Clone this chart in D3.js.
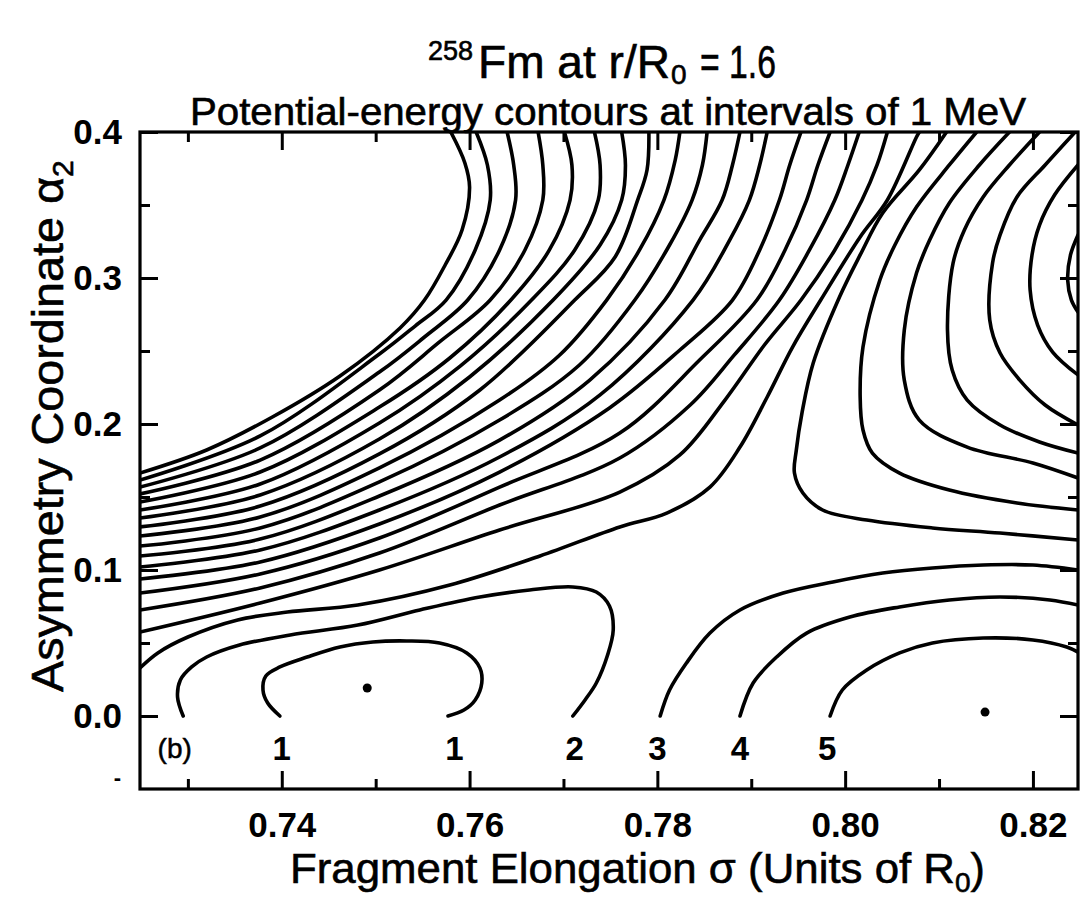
<!DOCTYPE html>
<html><head><meta charset="utf-8">
<script src="https://cdn.jsdelivr.net/npm/d3@7"></script>
<style>
html,body{margin:0;padding:0;background:#fff;}
svg text{font-family:"Liberation Sans",Arial,sans-serif;fill:#000;}
</style></head><body>
<svg id="chart" width="1083" height="910"></svg>
<script>
// ---- axis data ----
const xDomain = [0.7249, 0.8248];
const yDomain = [-0.05, 0.4];
const xMajorTicks = [0.74, 0.76, 0.78, 0.80, 0.82];
const xMinorTicks = [0.73, 0.75, 0.77, 0.79, 0.81];
const xTickLabels = ["0.74", "0.76", "0.78", "0.80", "0.82"];
const yMajorTicks = [0, 0.1, 0.2, 0.3, 0.4];
const yMinorTicks = [-0.05, 0.05, 0.15, 0.25, 0.35];
const yTickLabels = ["0.0", "0.1", "0.2", "0.3", "0.4"];

// ---- contour lines, [sigma, alpha2] ----
// band of contours running from the left edge up to the top edge
const bandLines = [
 [[0.7249,0.1664],[0.7320,0.1822],[0.7390,0.2048],[0.7462,0.2329],[0.7526,0.2658],[0.7552,0.2849],[0.7574,0.3089],[0.7592,0.3329],[0.7600,0.3623],[0.7595,0.3788],[0.7580,0.4000]],
 [[0.7249,0.1616],[0.7377,0.1918],[0.7504,0.2479],[0.7542,0.2671],[0.7575,0.2849],[0.7606,0.3192],[0.7622,0.3534],[0.7619,0.3774],[0.7607,0.4000]],
 [[0.7249,0.1568],[0.7377,0.1836],[0.7504,0.2356],[0.7552,0.2596],[0.7598,0.2849],[0.7632,0.3192],[0.7649,0.3534],[0.7647,0.3774],[0.7640,0.4000]],
 [[0.7249,0.1521],[0.7377,0.1753],[0.7504,0.2233],[0.7568,0.2562],[0.7622,0.2849],[0.7659,0.3192],[0.7678,0.3534],[0.7678,0.3774],[0.7673,0.4000]],
 [[0.7249,0.1466],[0.7377,0.1671],[0.7504,0.2116],[0.7579,0.2452],[0.7644,0.2849],[0.7685,0.3192],[0.7707,0.3534],[0.7709,0.3774],[0.7701,0.4000]],
 [[0.7249,0.1411],[0.7377,0.1589],[0.7504,0.2007],[0.7590,0.2397],[0.7666,0.2849],[0.7712,0.3192],[0.7737,0.3534],[0.7739,0.3774],[0.7733,0.4000]],
 [[0.7249,0.1356],[0.7377,0.1514],[0.7504,0.1897],[0.7600,0.2322],[0.7689,0.2849],[0.7739,0.3226],[0.7762,0.3534],[0.7766,0.3774],[0.7762,0.4000]],
 [[0.7249,0.1295],[0.7377,0.1438],[0.7504,0.1795],[0.7611,0.2233],[0.7712,0.2849],[0.7755,0.3144],[0.7779,0.3534],[0.7789,0.3740],[0.7791,0.4000]],
 [[0.7249,0.1233],[0.7377,0.1363],[0.7504,0.1699],[0.7632,0.2164],[0.7696,0.2473],[0.7746,0.2849],[0.7781,0.3192],[0.7807,0.3534],[0.7819,0.3808],[0.7824,0.4000]],
 [[0.7249,0.1164],[0.7377,0.1288],[0.7504,0.1603],[0.7632,0.2027],[0.7717,0.2404],[0.7776,0.2849],[0.7813,0.3226],[0.7837,0.3534],[0.7848,0.3774],[0.7853,0.4000]],
 [[0.7249,0.1096],[0.7377,0.1212],[0.7504,0.1507],[0.7632,0.1890],[0.7728,0.2301],[0.7808,0.2849],[0.7845,0.3260],[0.7869,0.3534],[0.7880,0.3774],[0.7888,0.4000]],
 [[0.7249,0.1021],[0.7377,0.1137],[0.7504,0.1411],[0.7632,0.1774],[0.7739,0.2199],[0.7838,0.2849],[0.7877,0.3260],[0.7898,0.3534],[0.7909,0.3774],[0.7917,0.4000]],
 [[0.7249,0.0938],[0.7377,0.1055],[0.7504,0.1315],[0.7632,0.1671],[0.7749,0.2110],[0.7824,0.2507],[0.7880,0.2849],[0.7909,0.3192],[0.7930,0.3534],[0.7941,0.3774],[0.7953,0.4000]],
 [[0.7249,0.0842],[0.7377,0.0973],[0.7504,0.1219],[0.7632,0.1568],[0.7760,0.1938],[0.7845,0.2438],[0.7906,0.2849],[0.7936,0.3192],[0.7959,0.3534],[0.7971,0.3774],[0.7984,0.4000]],
 [[0.7249,0.0726],[0.7377,0.0877],[0.7504,0.1116],[0.7632,0.1445],[0.7760,0.1767],[0.7835,0.2130],[0.7882,0.2473],[0.7930,0.2849],[0.7962,0.3192],[0.7989,0.3534],[0.8003,0.3774],[0.8015,0.4000]],
 [[0.7249,0.0575],[0.7377,0.0774],[0.7504,0.1000],[0.7632,0.1274],[0.7760,0.1534],[0.7824,0.1788],[0.7872,0.2164],[0.7914,0.2541],[0.7953,0.2849],[0.7989,0.3192],[0.8018,0.3534],[0.8034,0.3774],[0.8045,0.4000]],
 [[0.7249,0.0329],[0.7268,0.0432],[0.7300,0.0541],[0.7353,0.0658],[0.7406,0.0712],[0.7481,0.0760],[0.7579,0.0897],[0.7675,0.1096],[0.7760,0.1295],[0.7810,0.1390],[0.7856,0.1568],[0.7888,0.1842],[0.7917,0.2185],[0.7944,0.2527],[0.7974,0.2849],[0.8016,0.3281],[0.8045,0.3534],[0.8076,0.3966],[0.8079,0.4000]]
];
// contours from the top edge curving round to the right edge
const rightLines = [
 [[0.8108,0.4000],[0.8079,0.3740],[0.8040,0.3445],[0.8016,0.3158],[0.7994,0.2870],[0.7966,0.2418],[0.7954,0.2075],[0.7948,0.1822],[0.7946,0.1664],[0.7955,0.1527],[0.7976,0.1411],[0.8023,0.1342],[0.8093,0.1288],[0.8165,0.1253],[0.8248,0.1205]],
 [[0.8140,0.4000],[0.8111,0.3774],[0.8076,0.3486],[0.8053,0.3226],[0.8037,0.2986],[0.8019,0.2527],[0.8016,0.2185],[0.8019,0.1959],[0.8029,0.1801],[0.8058,0.1664],[0.8111,0.1548],[0.8183,0.1459],[0.8248,0.1411]],
 [[0.8175,0.4000],[0.8143,0.3774],[0.8111,0.3514],[0.8090,0.3260],[0.8076,0.3034],[0.8063,0.2644],[0.8063,0.2301],[0.8079,0.2027],[0.8130,0.1842],[0.8200,0.1733],[0.8248,0.1630]],
 [[0.8207,0.4000],[0.8175,0.3774],[0.8147,0.3555],[0.8127,0.3329],[0.8115,0.3103],[0.8109,0.2644],[0.8114,0.2370],[0.8130,0.2164],[0.8165,0.1993],[0.8207,0.1877],[0.8248,0.1801]],
 [[0.8245,0.4000],[0.8213,0.3774],[0.8183,0.3555],[0.8165,0.3295],[0.8157,0.3103],[0.8154,0.2712],[0.8165,0.2486],[0.8186,0.2301],[0.8213,0.2130],[0.8248,0.1993]],
 [[0.8248,0.3774],[0.8223,0.3568],[0.8207,0.3363],[0.8199,0.3158],[0.8197,0.2918],[0.8205,0.2678],[0.8221,0.2493],[0.8248,0.2336]],
 [[0.8248,0.3295],[0.8240,0.3158],[0.8237,0.2986],[0.8241,0.2849],[0.8248,0.2767]]
];
// low-energy contours near alpha2 = 0
const lowerLines = [
 [[0.7398,0],[0.7385,0.0089],[0.7380,0.0178],[0.7383,0.0274],[0.7398,0.0336],[0.7427,0.0404],[0.7462,0.0473],[0.7497,0.0507],[0.7533,0.0514],[0.7568,0.0500],[0.7597,0.0432],[0.7611,0.0329],[0.7613,0.0226],[0.7606,0.0110],[0.7594,0.0041],[0.7577,0]],
 [[0.7295,0],[0.7289,0.0130],[0.7292,0.0247],[0.7304,0.0336],[0.7320,0.0404],[0.7355,0.0486],[0.7409,0.0555],[0.7481,0.0623],[0.7547,0.0726],[0.7611,0.0815],[0.7664,0.0863],[0.7710,0.0884],[0.7735,0.0849],[0.7749,0.0753],[0.7753,0.0589],[0.7747,0.0418],[0.7735,0.0226],[0.7723,0.0110],[0.7710,0]],
 [[0.7803,0],[0.7813,0.0178],[0.7831,0.0363],[0.7856,0.0568],[0.7888,0.0726],[0.7934,0.0842],[0.7987,0.0918],[0.8040,0.0979],[0.8093,0.1014],[0.8147,0.1034],[0.8200,0.1034],[0.8248,0.1000]],
 [[0.7888,0],[0.7902,0.0226],[0.7927,0.0404],[0.7959,0.0568],[0.8005,0.0678],[0.8058,0.0747],[0.8111,0.0795],[0.8165,0.0815],[0.8218,0.0795],[0.8248,0.0760]],
 [[0.7984,0],[0.7997,0.0178],[0.8023,0.0315],[0.8058,0.0432],[0.8093,0.0500],[0.8147,0.0534],[0.8200,0.0521],[0.8236,0.0473],[0.8248,0.0438]]
];
const minimaPoints = [[0.7491, 0.0192], [0.8149, 0.0027]];
const contourLabelText = ["1", "1", "2", "3", "4", "5"];
const contourLabelSigma = [0.7400, 0.7584, 0.7712, 0.7800, 0.7888, 0.7981];
const contourLabelAlpha = -0.022;

// ---- layout ----
const M = {left: 140, right: 1078, top: 132, bottom: 789};
const svg = d3.select("#chart");
const x = d3.scaleLinear().domain(xDomain).range([M.left, M.right]);
const y = d3.scaleLinear().domain(yDomain).range([M.bottom, M.top]);

svg.append("defs").append("clipPath").attr("id", "plotclip")
  .append("rect").attr("x", M.left).attr("y", M.top)
  .attr("width", M.right - M.left).attr("height", M.bottom - M.top);

const line = d3.line().x(d => x(d[0])).y(d => y(d[1])).curve(d3.curveCatmullRom.alpha(0.5));
const cg = svg.append("g").attr("clip-path", "url(#plotclip)");
cg.selectAll("path.c")
  .data(bandLines.concat(rightLines, lowerLines))
  .join("path").attr("class", "c")
  .attr("d", line).attr("fill", "none").attr("stroke", "#000")
  .attr("stroke-width", 3.6).attr("stroke-linejoin", "round").attr("stroke-linecap", "round");

cg.selectAll("circle.m").data(minimaPoints).join("circle").attr("class", "m")
  .attr("cx", d => x(d[0])).attr("cy", d => y(d[1])).attr("r", 4.5).attr("fill", "#000");

// ---- axes ----
function styleAxis(g) {
  g.select(".domain").remove();
  g.selectAll(".tick line").attr("stroke", "#000").attr("stroke-width", 3);
}
const tickFont = 35;
function styleLabels(g) {
  g.selectAll("text").attr("font-size", tickFont).attr("font-weight", "bold").attr("fill", "#000")
    .attr("font-family", "Liberation Sans, Arial, sans-serif");
}
svg.append("g").attr("transform", `translate(0,${M.bottom})`)
  .call(d3.axisBottom(x).tickValues(xMajorTicks).tickSizeInner(-18).tickSizeOuter(0).tickPadding(23)
    .tickFormat((d, i) => xTickLabels[i]))
  .call(styleAxis).call(styleLabels);
svg.append("g").attr("transform", `translate(0,${M.bottom})`)
  .call(d3.axisBottom(x).tickValues(xMinorTicks).tickSizeInner(-10).tickSizeOuter(0).tickFormat(""))
  .call(styleAxis);
svg.append("g").attr("transform", `translate(0,${M.top})`)
  .call(d3.axisTop(x).tickValues(xMajorTicks).tickSizeInner(-18).tickSizeOuter(0).tickFormat(""))
  .call(styleAxis);
svg.append("g").attr("transform", `translate(0,${M.top})`)
  .call(d3.axisTop(x).tickValues(xMinorTicks).tickSizeInner(-10).tickSizeOuter(0).tickFormat(""))
  .call(styleAxis);
svg.append("g").attr("transform", `translate(${M.left},0)`)
  .call(d3.axisLeft(y).tickValues(yMajorTicks).tickSizeInner(-18).tickSizeOuter(0).tickPadding(18)
    .tickFormat((d, i) => yTickLabels[i]))
  .call(styleAxis).call(styleLabels);
svg.append("g").attr("transform", `translate(${M.left},0)`)
  .call(d3.axisLeft(y).tickValues(yMinorTicks.filter(v => v > yDomain[0])).tickSizeInner(-10).tickSizeOuter(0).tickFormat(""))
  .call(styleAxis);
svg.append("g").attr("transform", `translate(${M.right},0)`)
  .call(d3.axisRight(y).tickValues(yMajorTicks).tickSizeInner(-18).tickSizeOuter(0).tickFormat(""))
  .call(styleAxis);
svg.append("g").attr("transform", `translate(${M.right},0)`)
  .call(d3.axisRight(y).tickValues(yMinorTicks.filter(v => v > yDomain[0])).tickSizeInner(-10).tickSizeOuter(0).tickFormat(""))
  .call(styleAxis);

// frame
svg.append("rect").attr("x", M.left).attr("y", M.top)
  .attr("width", M.right - M.left).attr("height", M.bottom - M.top)
  .attr("fill", "none").attr("stroke", "#000").attr("stroke-width", 3.2);

// stray dash left of the bottom corner
svg.append("text").attr("x", M.left - 19).attr("y", y(-0.047)).attr("text-anchor", "end")
  .attr("font-size", 22).attr("font-weight", "bold").text("-");

// contour labels
svg.selectAll("text.cl").data(contourLabelText).join("text").attr("class", "cl")
  .attr("x", (d, i) => x(contourLabelSigma[i])).attr("y", y(contourLabelAlpha))
  .attr("dy", "0.36em").attr("text-anchor", "middle")
  .attr("font-size", 33).attr("font-weight", "bold").text(d => d);
svg.append("text").attr("x", x(0.7286)).attr("y", y(contourLabelAlpha)).attr("dy", "0.36em")
  .attr("text-anchor", "middle").attr("font-size", 28).attr("stroke", "#000").attr("stroke-width", 0.5).text("(b)");

// titles
const heavy = g => g.attr("stroke", "#000").attr("stroke-width", 0.6);
const t1 = svg.append("text").attr("font-size", 46).call(heavy);
t1.append("tspan").attr("x", 428).attr("y", 60).attr("font-size", 27).text("258");
t1.append("tspan").attr("x", 478).attr("y", 78).attr("textLength", 192).attr("lengthAdjust", "spacingAndGlyphs").text("Fm at r/R");
t1.append("tspan").attr("x", 671).attr("y", 84).attr("font-size", 28).text("0");
t1.append("tspan").attr("x", 700).attr("y", 78).attr("textLength", 76).attr("lengthAdjust", "spacingAndGlyphs").text("= 1.6");

svg.append("text").attr("x", 608).attr("y", 125).attr("text-anchor", "middle")
  .attr("font-size", 38).attr("textLength", 836).attr("lengthAdjust", "spacingAndGlyphs")
  .call(heavy).text("Potential-energy contours at intervals of 1 MeV");

const xt = svg.append("text").attr("x", 290).attr("y", 883).attr("font-size", 43).call(heavy);
xt.append("tspan").attr("textLength", 665).attr("lengthAdjust", "spacingAndGlyphs").text("Fragment Elongation σ (Units of R");
xt.append("tspan").attr("font-size", 28).attr("dy", 9).text("0");
xt.append("tspan").attr("dy", -9).text(")");

const yt = svg.append("text").attr("transform", "translate(63,692) rotate(-90)").attr("font-size", 45).call(heavy);
yt.append("tspan").attr("textLength", 515).attr("lengthAdjust", "spacingAndGlyphs").text("Asymmetry Coordinate α");
yt.append("tspan").attr("font-size", 30).attr("dy", 10).text("2");
</script></body></html>
